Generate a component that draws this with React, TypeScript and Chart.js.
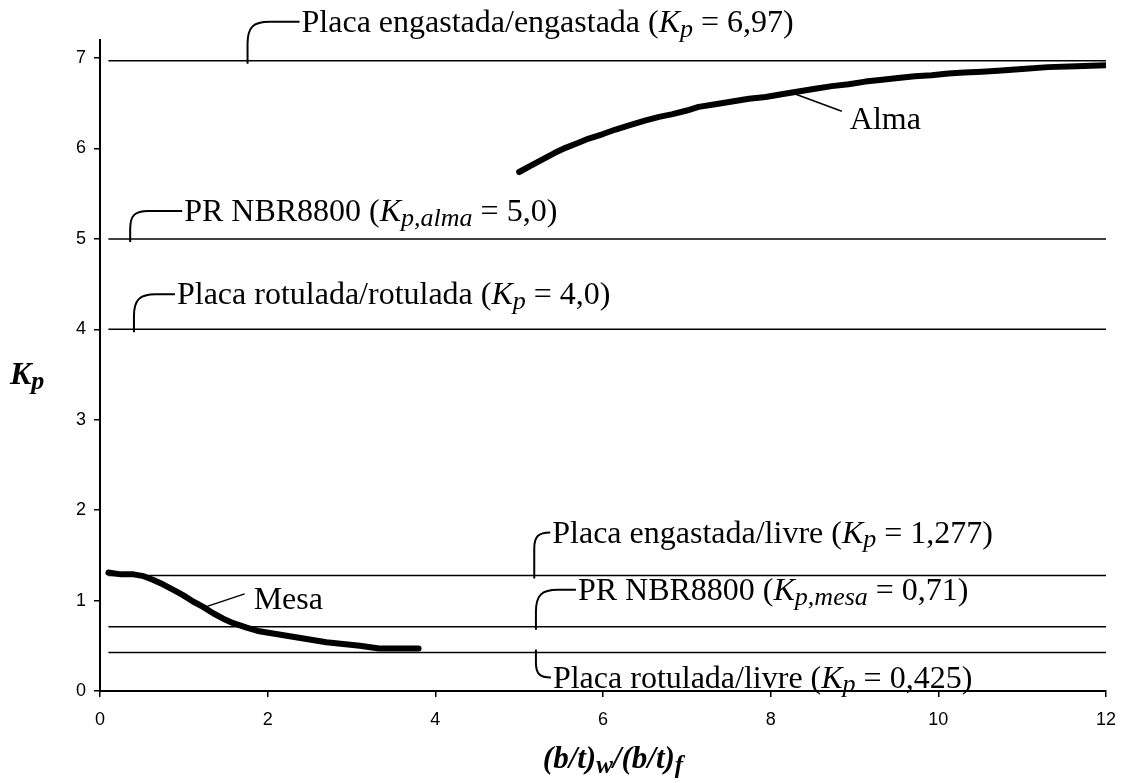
import React, { useEffect, useRef } from 'react';
import { Chart, registerables } from 'chart.js';

Chart.register(...registerables);

// ---- data ----
const mesaX = [0.1, 0.25, 0.4, 0.52, 0.63, 0.75, 0.87, 0.99, 1.11, 1.23, 1.35, 1.47, 1.59, 1.75, 1.9, 2.1, 2.3, 2.5, 2.7, 2.9, 3.1, 3.33, 3.55, 3.8];
const mesaY = [1.31, 1.29, 1.29, 1.27, 1.23, 1.18, 1.12, 1.06, 0.99, 0.93, 0.86, 0.8, 0.75, 0.7, 0.66, 0.63, 0.6, 0.57, 0.54, 0.52, 0.5, 0.47, 0.47, 0.47];
const almaX = [5.0, 5.14, 5.28, 5.42, 5.56, 5.7, 5.83, 6.0, 6.15, 6.33, 6.51, 6.67, 6.83, 7.0, 7.14, 7.34, 7.54, 7.74, 7.94, 8.13, 8.33, 8.53, 8.73, 8.93, 9.13, 9.33, 9.52, 9.72, 9.92, 10.12, 10.31, 10.52, 10.71, 11.0, 11.31, 11.65, 12.0];
const almaY = [5.74, 5.81, 5.88, 5.95, 6.01, 6.06, 6.11, 6.16, 6.21, 6.26, 6.31, 6.35, 6.38, 6.42, 6.46, 6.49, 6.52, 6.55, 6.57, 6.6, 6.63, 6.66, 6.69, 6.71, 6.74, 6.76, 6.78, 6.8, 6.81, 6.83, 6.84, 6.85, 6.86, 6.88, 6.9, 6.91, 6.92];
const refLevels = [6.97, 5.0, 4.0, 1.277, 0.71, 0.425];
const refStartX = 0.1;
const refEndX = 12;
const xTickValues = [0, 2, 4, 6, 8, 10, 12];
const yTickValues = [0, 1, 2, 3, 4, 5, 6, 7];

type Run = { t: string; st: 'n' | 'i' | 'sub' };
const refLabels: Run[][] = [
  [{ t: 'Placa engastada/engastada (', st: 'n' }, { t: 'K', st: 'i' }, { t: 'p', st: 'sub' }, { t: ' = 6,97)', st: 'n' }],
  [{ t: 'PR NBR8800 (', st: 'n' }, { t: 'K', st: 'i' }, { t: 'p,alma', st: 'sub' }, { t: ' = 5,0)', st: 'n' }],
  [{ t: 'Placa rotulada/rotulada (', st: 'n' }, { t: 'K', st: 'i' }, { t: 'p', st: 'sub' }, { t: ' = 4,0)', st: 'n' }],
  [{ t: 'Placa engastada/livre (', st: 'n' }, { t: 'K', st: 'i' }, { t: 'p', st: 'sub' }, { t: ' = 1,277)', st: 'n' }],
  [{ t: 'PR NBR8800 (', st: 'n' }, { t: 'K', st: 'i' }, { t: 'p,mesa', st: 'sub' }, { t: ' = 0,71)', st: 'n' }],
  [{ t: 'Placa rotulada/livre (', st: 'n' }, { t: 'K', st: 'i' }, { t: 'p', st: 'sub' }, { t: ' = 0,425)', st: 'n' }],
];
const yTitle: Run[] = [{ t: 'K', st: 'i' }, { t: 'p', st: 'sub' }];
const xTitle: Run[] = [{ t: '(b/t)', st: 'i' }, { t: 'w', st: 'sub' }, { t: '/(b/t)', st: 'i' }, { t: 'f', st: 'sub' }];

// ---- layout / style (not data) ----
const refLabelLayout = [
  { ax: 1.76, dir: 1, rise: 39, run: 52 },
  { ax: 0.36, dir: 1, rise: 28, run: 52 },
  { ax: 0.405, dir: 1, rise: 35, run: 41 },
  { ax: 5.18, dir: 1, rise: 43, run: 16 },
  { ax: 5.2, dir: 1, rise: 37, run: 40 },
  { ax: 5.2, dir: -1, rise: 25, run: 15 },
];
const SERIF = '"Liberation Serif", "Times New Roman", serif';
const SANS = '"Liberation Sans", Arial, sans-serif';
const LABEL_SIZE = 32;
const SUB_SCALE = 0.8;

function runFont(r: Run, size: number, bold: boolean) {
  const b = bold ? 'bold ' : '';
  if (r.st === 'i') return `italic ${b}${size}px ${SERIF}`;
  if (r.st === 'sub') return `italic ${b}${Math.round(size * SUB_SCALE)}px ${SERIF}`;
  return `${b}${size}px ${SERIF}`;
}

function drawRich(ctx: CanvasRenderingContext2D, runs: Run[], x: number, y: number, size: number, bold = false) {
  let cx = x;
  for (const r of runs) {
    ctx.font = runFont(r, size, bold);
    const dy = r.st === 'sub' ? size * 0.15 : 0;
    ctx.fillText(r.t, cx, y + dy);
    cx += ctx.measureText(r.t).width;
  }
  return cx - x;
}

function measureRich(ctx: CanvasRenderingContext2D, runs: Run[], size: number, bold = false) {
  let w = 0;
  for (const r of runs) {
    ctx.font = runFont(r, size, bold);
    w += ctx.measureText(r.t).width;
  }
  return w;
}

const annotationPlugin = {
  id: 'annotations',
  afterDatasetsDraw(chart: any) {
    const ctx: CanvasRenderingContext2D = chart.ctx;
    const xs = chart.scales.x;
    const ys = chart.scales.y;
    ctx.save();
    ctx.strokeStyle = '#000';
    ctx.fillStyle = '#000';
    ctx.lineWidth = 2;
    ctx.textBaseline = 'alphabetic';
    ctx.textAlign = 'left';
    refLevels.forEach((lvl, i) => {
      const L = refLabelLayout[i];
      const ax = xs.getPixelForValue(L.ax);
      const ay = ys.getPixelForValue(lvl);
      const ly = ay - L.dir * L.rise;
      const r = Math.min(L.rise * 0.65, 22, L.run);
      ctx.beginPath();
      ctx.moveTo(ax, ay + L.dir * 3);
      ctx.lineTo(ax, ly + L.dir * r);
      ctx.bezierCurveTo(ax, ly + L.dir * r * 0.25, ax + r * 0.25, ly, ax + r, ly);
      ctx.lineTo(ax + L.run, ly);
      ctx.stroke();
      drawRich(ctx, refLabels[i], ax + L.run + 2, ly + 10, LABEL_SIZE);
    });
    // Alma leader
    const a0x = xs.getPixelForValue(8.3);
    const a0y = ys.getPixelForValue(6.6);
    ctx.lineWidth = 1.5;
    ctx.beginPath();
    ctx.moveTo(a0x, a0y);
    ctx.lineTo(a0x + 46, a0y + 17);
    ctx.stroke();
    ctx.font = `${LABEL_SIZE}px ${SERIF}`;
    ctx.fillText('Alma', a0x + 54, a0y + 35);
    // Mesa leader
    const m0x = xs.getPixelForValue(1.26);
    const m0y = ys.getPixelForValue(0.93);
    ctx.beginPath();
    ctx.moveTo(m0x, m0y);
    ctx.lineTo(m0x + 39, m0y - 13);
    ctx.stroke();
    ctx.fillText('Mesa', m0x + 48, m0y + 2);
    // axis titles
    drawRich(ctx, yTitle, 10, 384, 32, true);
    const cx = (chart.chartArea.left + chart.chartArea.right) / 2;
    const w = measureRich(ctx, xTitle, 31, true);
    drawRich(ctx, xTitle, cx - w / 2 + 10, 768, 31, true);
    ctx.restore();
  },
};

export default function App() {
  const ref = useRef<HTMLCanvasElement>(null);
  useEffect(() => {
    document.body.style.margin = '0';
    document.body.style.overflow = 'hidden';
    const datasets: any[] = refLevels.map((lvl) => ({
      data: [
        { x: refStartX, y: lvl },
        { x: refEndX, y: lvl },
      ],
      borderColor: '#000',
      borderWidth: 1.5,
      pointRadius: 0,
      showLine: true,
      fill: false,
    }));
    datasets.push({
      data: mesaX.map((x, i) => ({ x, y: mesaY[i] })),
      borderColor: '#000',
      borderWidth: 6,
      borderCapStyle: 'round',
      borderJoinStyle: 'round',
      pointRadius: 0,
      showLine: true,
      fill: false,
    });
    datasets.push({
      data: almaX.map((x, i) => ({ x, y: almaY[i] })),
      borderColor: '#000',
      borderWidth: 6,
      borderCapStyle: 'round',
      borderJoinStyle: 'round',
      pointRadius: 0,
      showLine: true,
      fill: false,
    });
    const chart = new Chart(ref.current!, {
      type: 'scatter',
      data: { datasets },
      plugins: [annotationPlugin],
      options: {
        animation: false,
        responsive: false,
        events: [],
        layout: { padding: { top: 40, right: 20, left: 0, bottom: 0 } },
        plugins: { legend: { display: false }, tooltip: { enabled: false } },
        scales: {
          x: {
            type: 'linear',
            min: 0,
            max: 12,
            afterBuildTicks: (s: any) => {
              s.ticks = xTickValues.map((v) => ({ value: v }));
            },
            afterFit: (s: any) => {
              s.height = 92;
            },
            ticks: { color: '#000', font: { family: SANS, size: 18 }, padding: 12, maxRotation: 0 },
            grid: { drawOnChartArea: false, drawTicks: true, tickLength: 6, color: '#000', lineWidth: 1.5 },
            border: { display: true, color: '#000', width: 2 },
          },
          y: {
            type: 'linear',
            min: 0,
            max: 7.2,
            afterBuildTicks: (s: any) => {
              s.ticks = yTickValues.map((v) => ({ value: v }));
            },
            afterFit: (s: any) => {
              s.width = 100;
            },
            ticks: { color: '#000', font: { family: SANS, size: 18 }, padding: 8 },
            grid: { drawOnChartArea: false, drawTicks: true, tickLength: 6, color: '#000', lineWidth: 1.5 },
            border: { display: true, color: '#000', width: 2 },
          },
        },
      } as any,
    });
    return () => chart.destroy();
  }, []);
  return (
    <div style={{ width: 1128, height: 783, background: '#fff' }}>
      <canvas ref={ref} width={1128} height={783} style={{ display: 'block' }} />
    </div>
  );
}
